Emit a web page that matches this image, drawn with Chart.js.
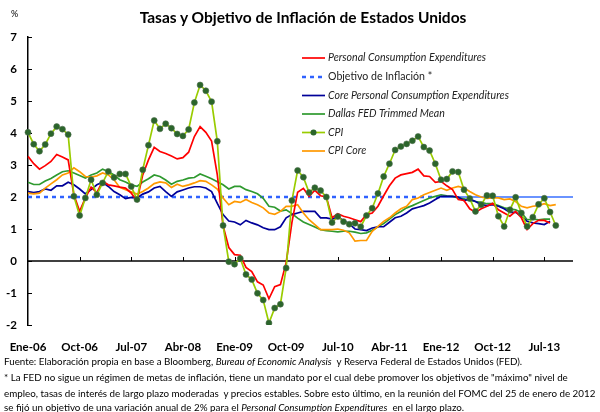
<!DOCTYPE html>
<html>
<head>
<meta charset="utf-8">
<script src="https://cdn.jsdelivr.net/npm/chart.js@4.4.1/dist/chart.umd.min.js"></script>
<style>
  body { margin: 0; background: #fff; }
  #wrap { position: relative; width: 600px; height: 412px; font-family: Lato, "Open Sans", sans-serif; color: #000; }
  #grafico { position: absolute; left: 0; top: 0; }
  #titulo { position: absolute; left: 0; top: 8px; width: 606px; text-align: center; font-weight: bold; font-size: 15.5px; }
  #pct { position: absolute; left: 11px; top: 8px; font-size: 9px; }
  .nota { position: absolute; left: 4px; font-size: 9.8px; white-space: nowrap; }
</style>
</head>
<body>
<div id="wrap">
  <canvas id="grafico" width="600" height="412"></canvas>
  <div id="titulo">Tasas y Objetivo de Inflación de Estados Unidos</div>
  <div id="pct">%</div>
  <div class="nota" style="top:355px">Fuente: Elaboración propia en base a Bloomberg, <i>Bureau of Economic Analysis</i>&nbsp; y Reserva Federal de Estados Unidos (FED).</div>
  <div class="nota" style="top:371px">* La FED no sigue un régimen de metas de inflación, tiene un mandato por el cual debe promover los objetivos de "máximo" nivel de</div>
  <div class="nota" style="top:387px">empleo, tasas de interés de largo plazo moderadas&nbsp; y precios estables. Sobre esto último, en la reunión del FOMC del 25 de enero de 2012</div>
  <div class="nota" style="top:401px">se fijó un objetivo de una variación anual de 2% para el <i>Personal Consumption Expenditures</i>&nbsp; en el largo plazo.</div>
</div>
<script>
// meses Ene-06 .. Dic-13
const meses = ["Ene","Feb","Mar","Abr","May","Jun","Jul","Ago","Sep","Oct","Nov","Dic"];
const anios = ["06","07","08","09","10","11","12","13"];
const etiquetasEje = ["Ene-06","Oct-06","Jul-07","Abr-08","Ene-09","Oct-09","Jul-10","Abr-11","Ene-12","Oct-12","Jul-13"];
const ticksY = [-2, -1, 0, 1, 2, 3, 4, 5, 6, 7];

const categorias = [];
anios.forEach(a => meses.forEach(m => categorias.push(m + "-" + a)));

// Personal Consumption Expenditures (Ene-06 .. Ago-13)
const pce = [
  3.27, 3.04, 2.87, 2.98, 3.11, 3.33, 3.25, 3.16, 2.07, 1.55, 1.97, 2.31,
  2.14, 2.49, 2.38, 2.35, 2.31, 2.28, 2.12, 1.88, 2.69, 3.16, 3.55, 3.42,
  3.36, 3.28, 3.19, 3.23, 3.40, 3.89, 4.20, 4.02, 3.75, 2.69, 1.10, 0.42,
  0.20, 0.18, -0.20, -0.33, -0.65, -0.75, -1.18, -0.80, -0.74, -0.05, 1.20, 2.15,
  2.27, 2.02, 2.21, 2.04, 2.00, 1.35, 1.48, 1.40, 1.35, 1.29, 1.23, 1.45,
  1.50, 1.71, 2.04, 2.35, 2.59, 2.69, 2.73, 2.77, 2.87, 2.66, 2.64, 2.46,
  2.49, 2.35, 2.23, 1.92, 1.89, 1.63, 1.52, 1.63, 1.71, 1.80, 1.60, 1.50,
  1.40, 1.55, 1.35, 0.98, 1.17, 1.27, 1.27, 1.19
];

// Core Personal Consumption Expenditures (Ene-06 .. Ago-13)
const pceCore = [
  2.17, 2.14, 2.17, 2.25, 2.21, 2.35, 2.35, 2.46, 2.38, 2.25, 2.10, 2.23,
  2.38, 2.46, 2.33, 2.17, 2.07, 1.95, 1.99, 1.97, 2.09, 2.16, 2.28, 2.33,
  2.17, 2.02, 2.16, 2.22, 2.28, 2.32, 2.32, 2.28, 2.17, 1.80, 1.45, 1.25,
  1.22, 1.13, 1.27, 1.19, 1.13, 1.04, 0.98, 0.98, 1.07, 1.35, 1.45, 1.50,
  1.55, 1.55, 1.55, 1.35, 1.35, 1.31, 1.38, 1.27, 1.16, 1.00, 0.98, 0.95,
  1.03, 1.07, 1.07, 1.21, 1.35, 1.40, 1.50, 1.63, 1.68, 1.73, 1.81, 1.92,
  2.02, 2.02, 2.02, 2.00, 1.89, 1.94, 1.86, 1.76, 1.73, 1.76, 1.71, 1.63,
  1.52, 1.52, 1.40, 1.24, 1.19, 1.17, 1.14, 1.24
];

// Dallas FED Trimmed Mean (Ene-06 .. Ago-13)
const dallas = [
  2.46, 2.39, 2.39, 2.50, 2.58, 2.69, 2.79, 2.82, 2.75, 2.67, 2.59, 2.69,
  2.75, 2.87, 2.80, 2.69, 2.54, 2.47, 2.38, 2.33, 2.47, 2.57, 2.69, 2.64,
  2.53, 2.40, 2.49, 2.53, 2.59, 2.61, 2.72, 2.65, 2.57, 2.48, 2.38, 2.25,
  2.33, 2.33, 2.23, 2.17, 2.10, 1.96, 1.71, 1.68, 1.56, 1.60, 1.48, 1.34,
  1.22, 1.14, 1.06, 0.98, 0.95, 0.93, 0.91, 0.93, 0.93, 0.90, 0.86, 0.88,
  0.96, 1.07, 1.17, 1.31, 1.45, 1.55, 1.66, 1.73, 1.81, 1.89, 1.97, 2.02,
  2.07, 2.04, 2.02, 1.97, 1.94, 1.89, 1.86, 1.83, 1.79, 1.79, 1.73, 1.66,
  1.63, 1.60, 1.52, 1.29, 1.31, 1.29, 1.31, 1.31
];

// CPI (Ene-06 .. Sep-13)
const cpi = [
  4.02, 3.65, 3.43, 3.64, 3.98, 4.20, 4.12, 3.95, 2.02, 1.42, 1.97, 2.54,
  2.07, 2.44, 2.80, 2.61, 2.72, 2.72, 2.33, 1.92, 2.85, 3.62, 4.39, 4.13,
  4.29, 4.15, 3.97, 3.91, 4.11, 4.95, 5.50, 5.32, 4.98, 3.74, 1.11, -0.02,
  -0.10, 0.08, -0.42, -0.58, -1.01, -1.22, -1.94, -1.47, -1.35, -0.22, 1.89, 2.83,
  2.62, 2.14, 2.29, 2.20, 2.00, 1.20, 1.39, 1.23, 1.15, 1.18, 1.07, 1.42,
  1.65, 2.11, 2.64, 3.04, 3.47, 3.58, 3.66, 3.76, 3.89, 3.56, 3.45, 3.04,
  2.54, 2.56, 2.80, 2.78, 2.23, 1.95, 1.55, 1.76, 2.05, 2.04, 1.40, 1.08,
  1.60, 1.99, 1.50, 1.08, 1.37, 1.77, 1.96, 1.53, 1.11
];

// CPI Core (Ene-06 .. Sep-13)
const cpiCore = [
  2.12, 2.10, 2.12, 2.28, 2.41, 2.54, 2.69, 2.75, 2.91, 2.79, 2.64, 2.62,
  2.66, 2.75, 2.69, 2.54, 2.30, 2.23, 2.16, 2.09, 2.17, 2.28, 2.42, 2.47,
  2.44, 2.30, 2.40, 2.33, 2.38, 2.44, 2.51, 2.49, 2.38, 2.25, 1.97, 1.76,
  1.86, 1.83, 1.92, 1.83, 1.76, 1.66, 1.50, 1.46, 1.55, 1.71, 1.71, 1.76,
  1.50, 1.29, 1.14, 0.98, 0.98, 0.98, 1.00, 0.96, 0.88, 0.62, 0.64, 0.64,
  0.93, 1.08, 1.24, 1.35, 1.50, 1.63, 1.71, 1.92, 1.97, 2.07, 2.14, 2.21,
  2.28, 2.21, 2.28, 2.33, 2.28, 2.17, 2.07, 2.00, 1.96, 1.97, 1.97, 1.92,
  1.94, 1.86, 1.71, 1.66, 1.71, 1.73, 1.79, 1.73, 1.76
];

// Objetivo de inflación: punteado hasta Ene-12, continuo desde Ene-12 hasta Dic-13
const objetivo = 2;
const inicioObjetivoFormal = "Ene-12";

const idxFormal = categorias.indexOf(inicioObjetivoFormal);
const objetivoPunteado = categorias.map((c, i) => i <= idxFormal ? objetivo : null);
const objetivoContinuo = categorias.map((c, i) => i >= idxFormal ? objetivo : null);

const FUENTE = 'Lato, "Open Sans", sans-serif';

const linea = (label, data, color, orden, extra) => Object.assign({
  label, data,
  borderColor: color,
  backgroundColor: color,
  borderWidth: 1.7,
  pointRadius: 0,
  tension: 0,
  spanGaps: false,
  order: orden
}, extra || {});

const datasets = [
  linea("Personal Consumption Expenditures", pce, "#ff0000", 2),
  linea("Objetivo de Inflación *", objetivoPunteado, "#2f62ff", 7, { borderWidth: 2.6, borderDash: [4, 4] }),
  linea("Core Personal Consumption Expenditures", pceCore, "#000099", 4),
  linea("Dallas FED Trimmed Mean", dallas, "#2f9a2f", 5),
  linea("CPI", cpi, "#99cc00", 1, {
    pointRadius: 3,
    pointBackgroundColor: "#2b652b",
    pointBorderColor: "#4d6d4d",
    pointBorderWidth: 0.6
  }),
  linea("CPI Core", cpiCore, "#ff9900", 3),
  linea("objetivo formal", objetivoContinuo, "#6a93ff", 8, { borderWidth: 1.8 })
];

// leyenda dentro del área del gráfico
const leyenda = [
  { ds: 0, italic: true },
  { ds: 1, italic: false },
  { ds: 2, italic: true },
  { ds: 3, italic: true },
  { ds: 4, italic: true, punto: true },
  { ds: 5, italic: true }
];

const pluginEjes = {
  id: "ejes",
  beforeDatasetsDraw(chart) {
    const { ctx, chartArea, scales: { x, y } } = chart;
    const y0 = y.getPixelForValue(0);
    ctx.save();
    ctx.strokeStyle = "#000";
    ctx.lineWidth = 1.5;
    ctx.beginPath();
    ctx.moveTo(chartArea.left, y0);
    ctx.lineTo(chartArea.right, y0);
    ctx.stroke();
    ctx.lineWidth = 1;
    categorias.forEach((c, i) => {
      if (!etiquetasEje.includes(c) || i === 0) return;
      const px = Math.round(x.getPixelForValue(i)) + 0.5;
      ctx.beginPath();
      ctx.moveTo(px, y0);
      ctx.lineTo(px, y0 - 4);
      ctx.stroke();
    });
    ticksY.forEach(v => {
      const py = Math.round(y.getPixelForValue(v)) + 0.5;
      ctx.beginPath();
      ctx.moveTo(chartArea.left, py);
      ctx.lineTo(chartArea.left + 4, py);
      ctx.stroke();
    });
    ctx.restore();
  }
};

const pluginLeyenda = {
  id: "leyendaInterna",
  afterDraw(chart) {
    const { ctx } = chart;
    const x0 = 302, x1 = 325, xt = 328;
    const filas = [58, 77, 95.5, 114, 132.5, 151];
    ctx.save();
    leyenda.forEach((it, k) => {
      const ds = chart.data.datasets[it.ds];
      const yy = filas[k];
      ctx.strokeStyle = ds.borderColor;
      ctx.lineWidth = ds.borderWidth;
      ctx.setLineDash(ds.borderDash || []);
      ctx.beginPath();
      ctx.moveTo(x0, yy);
      ctx.lineTo(x1, yy);
      ctx.stroke();
      ctx.setLineDash([]);
      if (it.punto) {
        ctx.fillStyle = ds.pointBackgroundColor;
        ctx.beginPath();
        ctx.arc((x0 + x1) / 2, yy, 3, 0, Math.PI * 2);
        ctx.fill();
      }
      ctx.fillStyle = "#222";
      ctx.font = (it.italic ? "italic " : "") + "10.6px " + FUENTE;
      ctx.textBaseline = "middle";
      ctx.textAlign = "left";
      ctx.fillText(ds.label, xt, yy);
    });
    ctx.restore();
  }
};

new Chart(document.getElementById("grafico").getContext("2d"), {
  type: "line",
  data: { labels: categorias, datasets },
  options: {
    responsive: false,
    animation: false,
    events: [],
    layout: { padding: { top: 37, right: 27, bottom: 57, left: 0 } },
    plugins: {
      legend: { display: false },
      tooltip: { enabled: false },
      title: { display: false }
    },
    scales: {
      x: {
        type: "category",
        offset: false,
        grid: { display: false, drawTicks: false },
        border: { display: false },
        afterFit: s => { s.height = 30; s.paddingLeft = 0; s.paddingRight = 0; },
        ticks: {
          autoSkip: false,
          maxRotation: 0,
          minRotation: 0,
          padding: 15,
          color: "#000",
          font: { family: FUENTE, size: 11.5, weight: "bold" },
          callback: function (v, i) {
            const l = this.getLabelForValue(v);
            return etiquetasEje.includes(l) ? l : "";
          }
        }
      },
      y: {
        min: -2,
        max: 7,
        afterFit: s => { s.width = 28; },
        grid: { display: false, drawTicks: false },
        border: { display: true, color: "#000", width: 1.5 },
        ticks: {
          stepSize: 1,
          padding: 11,
          color: "#000",
          font: { family: FUENTE, size: 11.5, weight: "bold" }
        }
      }
    }
  },
  plugins: [pluginEjes, pluginLeyenda]
});
</script>
</body>
</html>
